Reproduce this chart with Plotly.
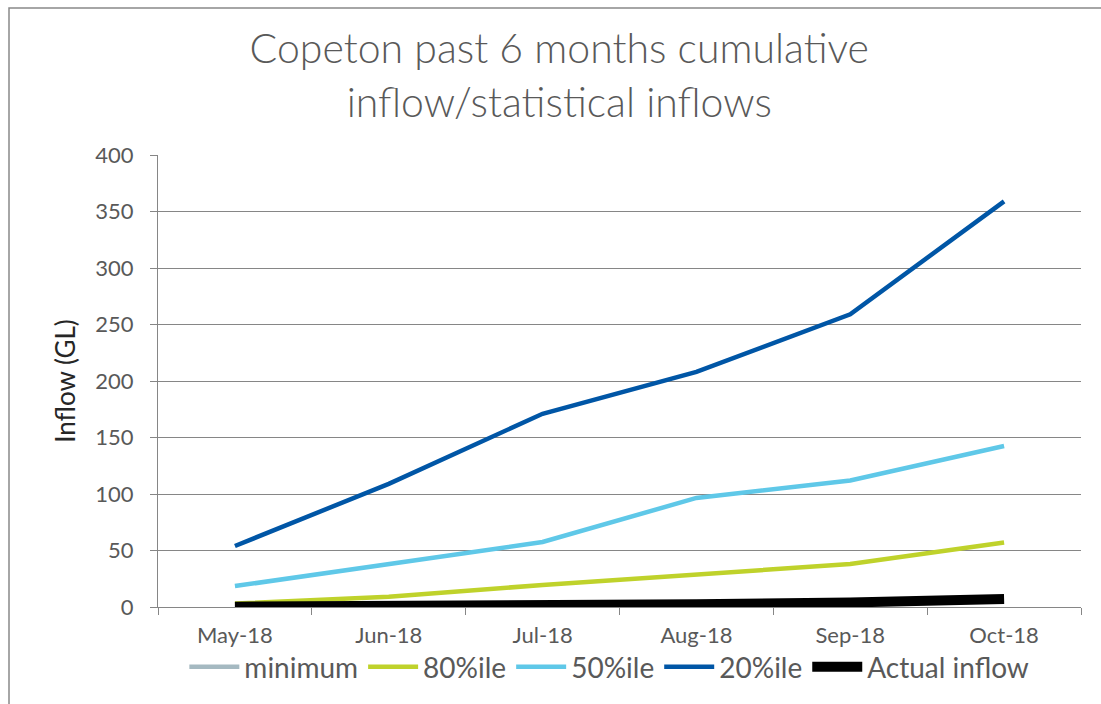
import plotly.graph_objects as go

months = ["May-18", "Jun-18", "Jul-18", "Aug-18", "Sep-18", "Oct-18"]
minimum = [0, 0.3, 1, 2, 3, 6]
p80 = [3, 9, 19.5, 29, 38, 57]
p50 = [18.5, 38, 57.5, 96.5, 112, 142.5]
p20 = [54, 109, 171, 208, 259, 359]
actual = [0.3, 0.5, 1.5, 2.5, 4, 7]

series = [
    ("minimum", minimum, "#A5B9C1", 4.5),
    ("80%ile", p80, "#BFD22B", 4.5),
    ("50%ile", p50, "#5FC8E8", 4.5),
    ("20%ile", p20, "#0056A6", 4.5),
    ("Actual inflow", actual, "#000000", 10),
]

FONT = "Lato"
fig = go.Figure()
for name, vals, col, w in series:
    fig.add_trace(go.Scatter(x=months, y=vals, name=name, mode="lines",
                             line=dict(color=col, width=w)))

fig.update_layout(
    width=1101, height=704,
    margin=dict(l=158, r=20, t=155, b=97, autoexpand=False),
    paper_bgcolor="white", plot_bgcolor="white",
    font=dict(family=FONT, color="#595959", size=21),
    title=dict(text="Copeton past 6 months cumulative<br>inflow/statistical inflows",
               x=0.508, xanchor="center", y=0.91, yanchor="top",
               font=dict(family=FONT, size=41, color="#595959", weight=300)),
    showlegend=True,
    legend=dict(orientation="h", x=0.489, xanchor="center", y=-0.133, yanchor="middle",
                font=dict(size=28, color="#595959"), itemwidth=50,
                tracegroupgap=0, bgcolor="rgba(0,0,0,0)"),
    xaxis=dict(range=[-0.5, 5.5], showgrid=False, showline=True, linecolor="#868686",
               linewidth=1, ticks="outside", tickson="boundaries", ticklen=7,
               tickcolor="#868686", tickfont=dict(size=22, color="#595959"),
               ticklabelstandoff=9, fixedrange=True),
    yaxis=dict(range=[0, 400], dtick=50, showgrid=True, gridcolor="#868686", gridwidth=1,
               showline=True, linecolor="#868686", linewidth=1, ticks="outside", ticklen=7,
               tickcolor="#868686", tickfont=dict(size=22, color="#595959"),
               ticklabelstandoff=12, zeroline=False,
               title=dict(text="Inflow (GL)", font=dict(size=26, color="#262626"), standoff=12)),
    shapes=[dict(type="rect", xref="paper", yref="paper",
                 x0=(9 - 158) / 923, x1=(1115 - 158) / 923,
                 y0=(607 - 715) / 452, y1=(607 - 8) / 452,
                 line=dict(color="#898989", width=1.5), layer="below")],
)

fig.write_html("out.html")
